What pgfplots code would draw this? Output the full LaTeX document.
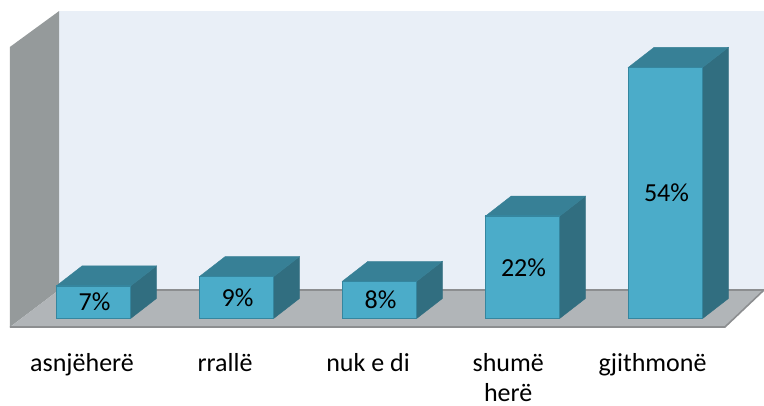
\documentclass[border=0pt]{standalone}
\usepackage{pgfplots}
\usepackage{pgfplotstable}
\usepackage{fontspec}
\setmainfont{Carlito}
\pgfplotsset{compat=1.18}
\definecolor{wallback}{HTML}{E9EFF7}
\definecolor{wallside}{HTML}{959A9B}
\definecolor{floorc}{HTML}{B1B5B8}
\definecolor{flooredge}{HTML}{8C8E90}
\definecolor{front}{HTML}{4BACC9}
\definecolor{frontedge}{HTML}{35869F}
\definecolor{topc}{HTML}{378096}
\definecolor{sidec}{HTML}{316E80}

% x, value, middle of the bar for the label
\pgfplotstableread{
x v mid
0 7 3.5
1 9 4.5
2 8 4
3 22 11
4 54 27
}\bars

\begin{document}
\begin{tikzpicture}[x=1pt,y=1pt]
\useasboundingbox (0,-60) rectangle (764,345);
\begin{axis}[
    scale only axis,
    width=764pt, height=345pt,
    xmin=-0.6538, xmax=4.689,
    ymin=-5.7, ymax=68.49,
    clip=false,
    axis y line=none,
    axis x line=bottom,
    axis line style={draw=none},
    xtick={-0.08,0.92,1.92,2.9,3.91},
    xticklabels={asnjëherë,rrallë,nuk e di,shumë\\herë,gjithmonë},
    xticklabel style={align=center,inner sep=0pt,font=\fontsize{26}{30}\selectfont,yshift=-8.6pt},
    major tick length=0pt,
    /pgf/number format/assume math mode=true,
]
% walls and floor
\addplot[fill=wallback,draw=none] coordinates {(-0.241,66.1) (4.689,66.1) (4.689,6.13) (-0.241,6.13)} --cycle;
\addplot[fill=wallside,draw=none] coordinates {(-0.584,58.4) (-0.241,66.1) (-0.241,6.13) (-0.584,-1.83)} --cycle;
\addplot[fill=floorc,draw=none] coordinates {(-0.584,-1.83) (-0.241,6.13) (4.689,6.13) (4.416,-1.83)} --cycle;
\addplot[flooredge,line width=1.2pt] coordinates {(-0.241,6.13) (4.689,6.13)};
\addplot[flooredge,line width=1.6pt] coordinates {(-0.584,-1.83) (4.416,-1.83) (4.689,6.13)};
% side faces
\addplot[fill=sidec,draw=sidec] coordinates {(0.26,0) (0.44,4.3) (0.44,11.3) (0.26,7)} --cycle;
\addplot[fill=sidec,draw=sidec] coordinates {(1.26,0) (1.44,4.3) (1.44,13.3) (1.26,9)} --cycle;
\addplot[fill=sidec,draw=sidec] coordinates {(2.26,0) (2.44,4.3) (2.44,12.3) (2.26,8)} --cycle;
\addplot[fill=sidec,draw=sidec] coordinates {(3.26,0) (3.44,4.3) (3.44,26.3) (3.26,22)} --cycle;
\addplot[fill=sidec,draw=sidec] coordinates {(4.26,0) (4.44,4.3) (4.44,58.3) (4.26,54)} --cycle;
% top faces
\addplot[fill=topc,draw=topc] coordinates {(-0.26,7) (-0.08,11.3) (0.44,11.3) (0.26,7)} --cycle;
\addplot[fill=topc,draw=topc] coordinates {(0.74,9) (0.92,13.3) (1.44,13.3) (1.26,9)} --cycle;
\addplot[fill=topc,draw=topc] coordinates {(1.74,8) (1.92,12.3) (2.44,12.3) (2.26,8)} --cycle;
\addplot[fill=topc,draw=topc] coordinates {(2.74,22) (2.92,26.3) (3.44,26.3) (3.26,22)} --cycle;
\addplot[fill=topc,draw=topc] coordinates {(3.74,54) (3.92,58.3) (4.44,58.3) (4.26,54)} --cycle;
% front faces
\addplot[ybar,bar shift=0pt,bar width=0.52,fill=front,draw=frontedge,line width=1.5pt] table[x=x,y=v] {\bars};
% value labels
\addplot[draw=none,mark=none,point meta=explicit,
    nodes near coords={\pgfmathprintnumber{\pgfplotspointmeta}\%},
    every node near coord/.append style={anchor=center,font=\fontsize{26}{30}\selectfont,text=black,xshift=1pt}]
    table[x=x,y=mid,meta=v] {\bars};
\end{axis}
\end{tikzpicture}
\end{document}
